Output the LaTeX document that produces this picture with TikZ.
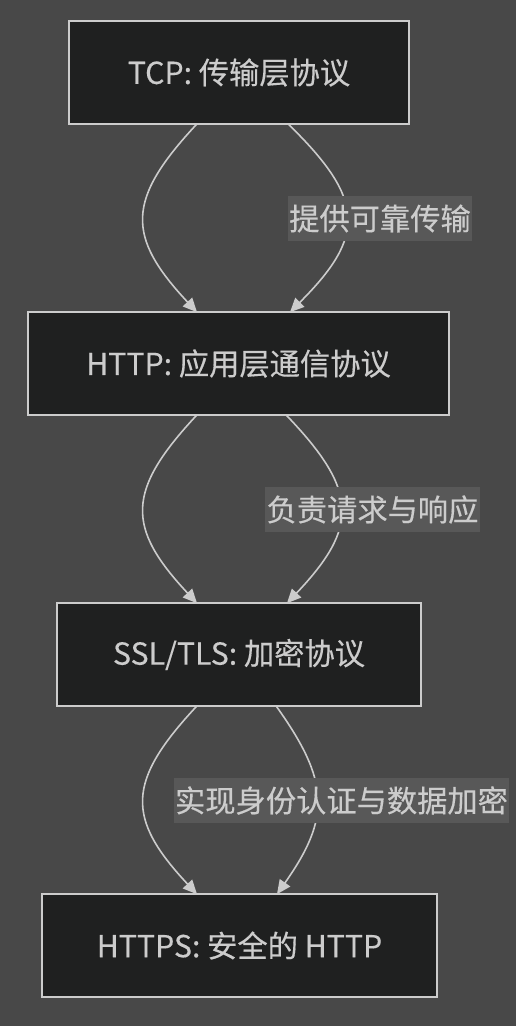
\documentclass[tikz,border=0pt]{standalone}
\usepackage{fontspec}
\setmainfont{Noto Sans CJK SC}[FakeBold=0.35]
\usetikzlibrary{arrows.meta,calc}
\definecolor{bg}{RGB}{72,72,72}
\definecolor{nodefill}{HTML}{1F2020}
\definecolor{fg}{HTML}{CCCCCC}
\definecolor{lblbg}{HTML}{585858}
\begin{document}
\begin{tikzpicture}[x=0.75pt,y=-0.75pt,
  box/.style={draw=fg, line width=1.1pt, fill=nodefill, text=fg,
    font=\fontsize{22.7}{26}\selectfont, minimum height=77pt,
    inner sep=0pt, outer sep=0pt},
  lbl/.style={fill=lblbg, text=fg, font=\fontsize{22.7}{26}\selectfont,
    inner xsep=1pt, inner ysep=0pt, minimum height=33.75pt},
  link/.style={draw=fg, line width=1.2pt, -{Triangle[length=10.5pt,width=9.5pt]}}]
\useasboundingbox (0,0) rectangle (516,1026);
\fill[bg] (0,0) rectangle (516,1026);

\node[box, minimum width=255pt] (tcp) at (239,72.5) {TCP: 传输层协议};
\node[box, minimum width=315.75pt] (http) at (238.5,363.5) {HTTP: 应用层通信协议};
\node[box, minimum width=273pt] (ssl) at (239,654.5) {SSL/TLS: 加密协议};
\node[box, minimum width=296.25pt] (https) at (239.5,945.5) {HTTPS: 安全的 HTTP};

% pair 1
\draw[link] ($(tcp.south)+(-42,0)$) .. controls +(-71,76) and +(-71,-76) .. ($(http.north)+(-41.5,0)$);
\draw[link] ($(tcp.south)+(49,0)$) .. controls +(78,76) and +(76,-76) .. ($(http.north)+(51.5,0)$);
\node[lbl] (l1) at (380,218.5) {提供可靠传输};

% pair 2
\draw[link] ($(http.south)+(-41.5,0)$) .. controls +(-71,76) and +(-71,-76) .. ($(ssl.north)+(-42,0)$);
\draw[link] ($(http.south)+(47.5,0)$) .. controls +(73,76) and +(72,-76) .. ($(ssl.north)+(48,0)$);
\node[lbl] (l2) at (372.5,509.5) {负责请求与响应};

% pair 3
\draw[link] ($(ssl.south)+(-42,0)$) .. controls +(-71,76) and +(-71,-76) .. ($(https.north)+(-42.5,0)$);
\draw[link] ($(ssl.south)+(37,0)$) .. controls +(54.5,76) and +(53.5,-76) .. ($(https.north)+(37.5,0)$);
\node[lbl] (l3) at (341.5,800.5) {实现身份认证与数据加密};
\end{tikzpicture}
\end{document}
